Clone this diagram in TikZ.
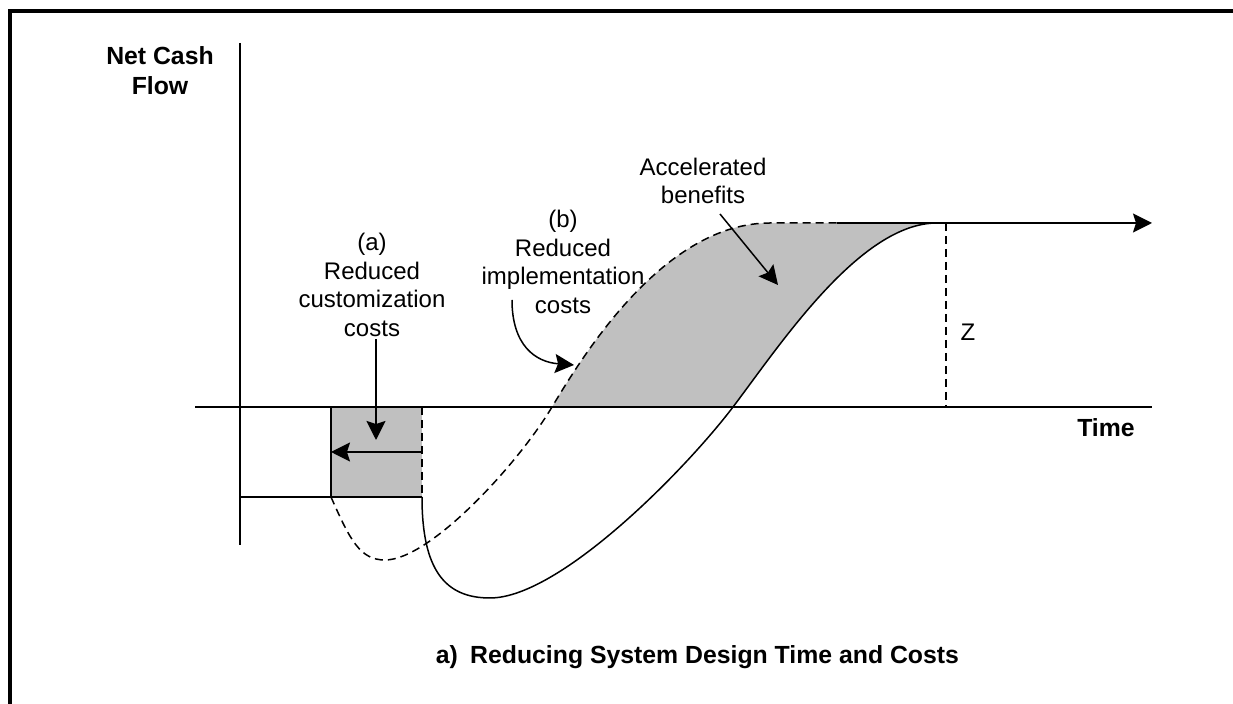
\documentclass[tikz,border=0pt]{standalone}
\usepackage{fontspec}
\setmainfont{Liberation Sans}
\usepackage{xcolor}
\usetikzlibrary{arrows.meta,positioning}
\definecolor{boxgray}{RGB}{192,192,192}
\tikzset{
  label text/.style={align=center, inner sep=1pt, font=\fontsize{12}{14.25}\selectfont},
  bold text/.style={align=center, inner sep=1pt, font=\fontsize{12.4}{15}\selectfont\bfseries},
  big arrow/.style={-{Stealth[length=9.5pt,width=9.5pt,inset=1.5pt]}},
  dash line/.style={dash pattern=on 4pt off 2.5pt},
}

\begin{document}
\begin{tikzpicture}[x=0.5pt,y=-0.5pt,line width=0.75pt]
                \useasboundingbox (0,0) rectangle (1233,704);

                % Define the frame
                \draw[line width=1.9pt] (10,704) -- (10,11) -- (1233,11);

                % Define the shaded areas
                \fill[boxgray] (331,407) rectangle (422,497);
                \fill[boxgray] (552,407) .. controls (585,352) and (665,223) .. (770,223) -- (937,223)
                    .. controls (860,223) and (780,345) .. (733,407) -- cycle;

                % Define the y-axis
                \draw (240,43) -- (240,545);

                % Define the x-axis
                \draw (195,407) -- (1152,407);
                \node[bold text] (time) at (1106,428) {Time};
                \node[bold text] (ncf) at (160,71) {Net Cash\\Flow};

                % Define the upper level with arrow
                \coordinate (flat) at (837,223);
                \coordinate (top) at (1152,223);
                \draw[big arrow] (flat) -- (top);

                % Define the lower level and the box
                \draw (240,497) -- (422,497);
                \draw (331,407) -- (331,497);
                \draw[dash line] (422,407) -- (422,497);

                % Define the reduced process (dashed)
                \draw[dash line] (331,497) .. controls (350,540) and (360,560) .. (385,560)
                    .. controls (430,560) and (518,464) .. (552,407)
                    .. controls (585,352) and (665,223) .. (770,223) -- (flat);

                % Define the original process (solid)
                \draw (422,497) .. controls (422,570) and (445,598) .. (490,598)
                    .. controls (560,598) and (686,469) .. (733,407)
                    .. controls (780,345) and (860,223) .. (937,223);

                % Add label for the level Z
                \coordinate (zt) at (946,223);
                \coordinate (zb) at (946,407);
                \draw[dash line] (zt) -- (zb);
                \node (z) at (968,332) {\fontsize{12}{14}\selectfont Z};

                % Add label (a) with its arrows
                \node[label text] (alab) at (372,285) {(a)\\Reduced\\customization\\costs};
                \coordinate (atip) at (376,440);
                \draw[big arrow] (alab.south -| atip) -- (atip);
                \coordinate (hs) at (422,452);
                \coordinate (ht) at (331,452);
                \draw[big arrow] (hs) -- (ht);

                % Add label (b) with its arrow
                \node[label text] (blab) at (563,262) {(b)\\Reduced\\implementation\\costs};
                \coordinate (bs) at (512,300);
                \coordinate (bt) at (574,365);
                \draw[big arrow] (bs) .. controls (512,345) and (535,362) .. (bt);

                % Add label for the accelerated benefits
                \node[label text] (acc) at (703,181) {Accelerated\\benefits};
                \coordinate (accs) at (720,214);
                \coordinate (acct) at (778,285);
                \draw[big arrow] (accs) -- (acct);

                % Add the caption
                \node[bold text, anchor=west] (title) at (433,657) {a)\enspace Reducing System Design Time and Costs};

\end{tikzpicture}
\end{document}
